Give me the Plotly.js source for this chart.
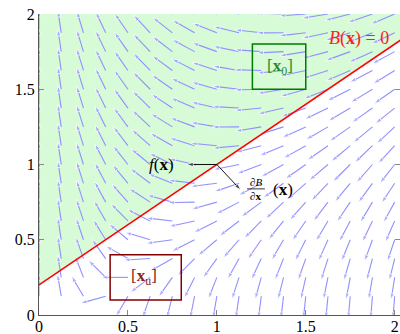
<!DOCTYPE html>
<html><head><meta charset="utf-8">
<script src="https://cdn.plot.ly/plotly-3.0.1.min.js"></script>
<style>html,body{margin:0;padding:0;background:#fff}#chart{width:400px;height:334px}</style>
</head><body><div id="chart"></div>
<script>
// ---- chart values ----
const tickVals = [0, 0.5, 1, 1.5, 2];
const tickText = ['0', '0.5', '1', '1.5', '2'];
// quiver sample grid (arrow tails)
const gridX = [0, 0.125, 0.25, 0.375, 0.5, 0.625, 0.75, 0.875, 1, 1.125, 1.25, 1.375, 1.5, 1.625, 1.75, 1.875, 2];
const gridY = [0, 0.125, 0.25, 0.375, 0.5, 0.625, 0.75, 0.875, 1, 1.125, 1.25, 1.375, 1.5, 1.625, 1.75, 1.875, 2];
// barrier line B(x)=0
const barrierX = [0, 2.05];
const barrierY = [0.2, 1.84];
// initial set [x0] and unsafe set [xu]
const safeBoxX = [1.2, 1.5];
const safeBoxY = [1.5, 1.8];
const unsafeBoxX = [0.4, 0.8];
const unsafeBoxY = [0.1, 0.4];
// point on the barrier with f(x) and dB/dx arrows
const basePoint = [1, 1];
const fTip = [0.83, 1.0];
const gradTip = [1.135, 0.83];
// system dynamics shown by the arrow directions, f(x) = (-x1*x2, x2 - x1^2)
function dynamics(x1, x2) { return [-x1 * x2, x2 - x1 * x1]; }

const XR = [0, 2.03], YR = [0, 2];
const arrowLen = 0.15;
const blue = '#9090ff';
const serif = 'Liberation Serif, DejaVu Serif, serif';

// field arrows
const qx = [], qy = [], qs = [];
gridX.forEach(gx => gridY.forEach(gy => {
  const [u, v] = dynamics(gx, gy);
  const m = Math.hypot(u, v);
  if (m < 1e-9) return;
  qx.push(gx, gx + arrowLen * u / m, null);
  qy.push(gy, gy + arrowLen * v / m, null);
  qs.push(0, 7, 0);
}));

function blackArrow(tip) {
  return { x: [basePoint[0], tip[0]], y: [basePoint[1], tip[1]],
    mode: 'lines+markers', line: { color: '#000', width: 0.9 },
    marker: { symbol: 'arrow', size: [0, 7], angleref: 'previous', color: '#000' }, hoverinfo: 'skip' };
}

const traces = [
  { x: [barrierX[0], barrierX[1], barrierX[1], barrierX[0]],
    y: [barrierY[0], barrierY[1], 2.2, 2.2],
    fill: 'toself', fillcolor: '#d7fad7', mode: 'lines', line: { width: 0 }, hoverinfo: 'skip' },
  { x: qx, y: qy, mode: 'lines+markers', line: { color: blue, width: 1.1 },
    marker: { symbol: 'arrow', size: qs, angleref: 'previous', color: blue }, hoverinfo: 'skip' },
  { x: barrierX, y: barrierY, mode: 'lines', line: { color: '#ff0000', width: 1.6 }, hoverinfo: 'skip' },
  blackArrow(fTip),
  blackArrow(gradTip)
];

const fracX = (gradTip[0] + 0.085);
const annotations = [
  { x: 1.8, y: 1.84, text: '<i>B</i>(<b>x</b>) = 0', font: { color: '#ff2020', size: 18 } },
  { x: 1.355, y: 1.645, text: '[<b>x</b><sub>0</sub>]', font: { color: '#2a8a2a', size: 17 } },
  { x: 0.593, y: 0.25, text: '[<b>x</b><sub>u</sub>]', font: { color: '#8b2020', size: 17 } },
  { x: 0.69, y: 1.0, text: '<i>f</i>(<b>x</b>)', font: { color: '#000', size: 17 } },
  { x: fracX, y: 0.885, text: '∂<i>B</i>', font: { color: '#000', size: 11 } },
  { x: fracX, y: 0.792, text: '∂<b>x</b>', font: { color: '#000', size: 11 } },
  { x: 1.37, y: 0.835, text: '(<b>x</b>)', font: { color: '#000', size: 17 } }
].map(a => Object.assign({ xref: 'x', yref: 'y', showarrow: false, borderpad: 0 }, a,
  { font: Object.assign({ family: serif }, a.font) }));

const shapes = [
  { type: 'rect', xref: 'x', yref: 'y', x0: safeBoxX[0], x1: safeBoxX[1], y0: safeBoxY[0], y1: safeBoxY[1],
    line: { color: '#007a00', width: 1.5 }, layer: 'above' },
  { type: 'rect', xref: 'x', yref: 'y', x0: unsafeBoxX[0], x1: unsafeBoxX[1], y0: unsafeBoxY[0], y1: unsafeBoxY[1],
    line: { color: '#800000', width: 1.5 }, layer: 'above' },
  { type: 'line', xref: 'x', yref: 'y', x0: fracX - 0.05, x1: fracX + 0.05, y0: 0.838, y1: 0.838,
    line: { color: '#000', width: 0.8 }, layer: 'above' }
];

const axisCommon = {
  showgrid: false, zeroline: false, showline: true, linecolor: '#555', linewidth: 1,
  ticks: 'inside', ticklen: 5, tickcolor: '#888', tickwidth: 1,
  tickvals: tickVals, ticktext: tickText,
  tickfont: { family: serif, size: 16, color: '#000' }, fixedrange: true
};

const layout = {
  width: 400, height: 334,
  margin: { l: 39, r: 0, t: 14, b: 19, pad: 0 },
  paper_bgcolor: '#fff', plot_bgcolor: '#fff',
  showlegend: false,
  xaxis: Object.assign({}, axisCommon, { range: XR, ticklabelstandoff: -3 }),
  yaxis: Object.assign({}, axisCommon, { range: YR, mirror: 'ticks' }),
  annotations: annotations,
  shapes: shapes
};

Plotly.newPlot('chart', traces, layout, { staticPlot: true, displayModeBar: false });
</script>
</body></html>
